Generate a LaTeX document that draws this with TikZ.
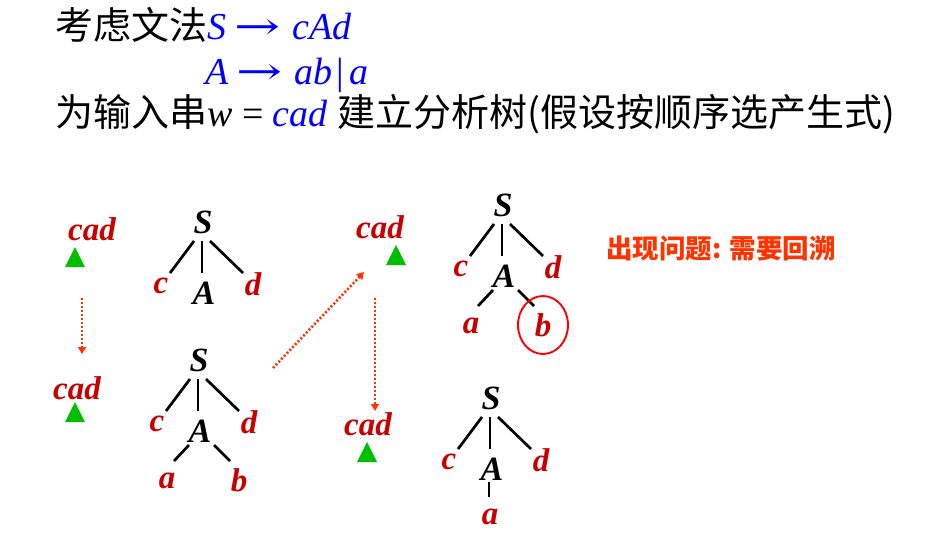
\documentclass[tikz,border=0pt]{standalone}
\usepackage{fontspec}
\setmainfont{Liberation Serif}
\newfontfamily\cjk{Noto Sans CJK SC}
\newfontfamily\symf{DejaVu Serif}
\usetikzlibrary{calc,arrows.meta}
\definecolor{tred}{RGB}{200,0,0}
\definecolor{tblue}{RGB}{0,0,255}
\definecolor{tgreen}{RGB}{0,190,0}
\definecolor{aorange}{RGB}{255,51,0}
\newcommand\bigarr{\hspace{0.22em}\scalebox{1.45}[1]{\symf\upshape →}\hspace{0.3em}}
\tikzset{
  hd/.style={inner sep=0pt, anchor=base west, font=\fontsize{38}{38}\selectfont},
  nt/.style={inner sep=0pt, font=\fontsize{34}{34}\selectfont\bfseries\itshape, text=black},
  tt/.style={inner sep=0pt, font=\fontsize{33}{33}\selectfont\bfseries\itshape, text=tred},
  br/.style={line width=2.7pt, black},
  tri/.style={fill=tgreen},
  dotarrow/.style={aorange, line width=2.6pt, dash pattern=on 2pt off 2pt, -{Triangle[length=7pt,width=8pt]}},
  circ/.style={red, line width=1.9pt}
}
\newcommand\PTtop[2]{%
  \node[nt] (#1S) at (#2) {S};
  \node[tt] (#1c) at ($(#1S)+(-42,64)$) {c};
  \node[nt] (#1A) at ($(#1S)+(1,71)$) {A};
  \node[tt] (#1d) at ($(#1S)+(50,62)$) {d};
  \draw[br] ([shift={(-9,19)}]#1S.center) -- ([shift={(9,-13)}]#1c.center);
  \draw[br] ([shift={(-1,19)}]#1S.center) -- ([shift={(-2,-20)}]#1A.center);
  \draw[br] ([shift={(7,19)}]#1S.center) -- ([shift={(-10,-11)}]#1d.center);
}
\newcommand\PTab[1]{%
  \node[tt] (#1a) at ($(#1A)+(-33,50)$) {a};
  \node[tt] (#1b) at ($(#1A)+(39,49)$) {b};
  \draw[br] ([shift={(-11,14)}]#1A.center) -- ([shift={(7,-20)}]#1a.center);
  \draw[br] ([shift={(14,14)}]#1A.center) -- ([shift={(-9,-19)}]#1b.center);
}
\begin{document}
\begin{tikzpicture}[x=1pt,y=-1pt]
\useasboundingbox (0,0) rectangle (942,544);
% heading
\node[hd] (l1) at (55,39) {{\cjk 考虑文法}{\color{tblue}\itshape S\bigarr cAd}};
\node[hd] (l2) at (205,84) {{\color{tblue}\itshape A\bigarr ab\hspace{0.12em}\textup{|}\hspace{0.12em}a}};
\node[hd] (l3) at (55,126) {{\cjk 为输入串}{\itshape w} = {\color{tblue}\itshape cad} {\cjk 建立分析树(假设按顺序选产生式)}};
% input strings and pointers
\node[tt, anchor=base] (cad1) at (92,240) {cad};
\node[tt, anchor=base] (cad2) at (77,399) {cad};
\node[tt, anchor=base] (cad3) at (380,238) {cad};
\node[tt, anchor=base] (cad4) at (368,435) {cad};
\fill[tri] (65,267) -- (85,267) -- (75,247) -- cycle;
\fill[tri] (65,422) -- (85,422) -- (75,402) -- cycle;
\fill[tri] (386,265) -- (406,265) -- (396,245) -- cycle;
\fill[tri] (357,462) -- (377,462) -- (367,442) -- cycle;
% trees
\PTtop{P}{203,222}
\PTtop{Q}{199,360}
\PTab{Q}
\PTtop{R}{503,205}
\PTab{R}
\PTtop{T}{491,398}
\node[tt] (Ta) at ($(TA)+(-2,48)$) {a};
\draw[br] ([shift={(-3,13)}]TA.center) -- ([shift={(-1,-20)}]Ta.center);
% circle round b
\draw[circ] (Rb.center) ellipse [x radius=25pt, y radius=29pt];
% arrows
\coordinate (a1s) at (82,298); \coordinate (a1e) at (82,354);
\coordinate (a2s) at (273,368); \coordinate (a2e) at (364,272);
\coordinate (a3s) at (375,298); \coordinate (a3e) at (375,411);
\draw[dotarrow] (a1s) -- (a1e);
\draw[dotarrow] (a2s) -- (a2e);
\draw[dotarrow] (a3s) -- (a3e);
% note
\node[anchor=west, inner sep=0pt, text=aorange, font=\fontsize{26.5}{26.5}\selectfont\cjk\bfseries] (note) at (606,248) {出现问题: 需要回溯};
\end{tikzpicture}
\end{document}
